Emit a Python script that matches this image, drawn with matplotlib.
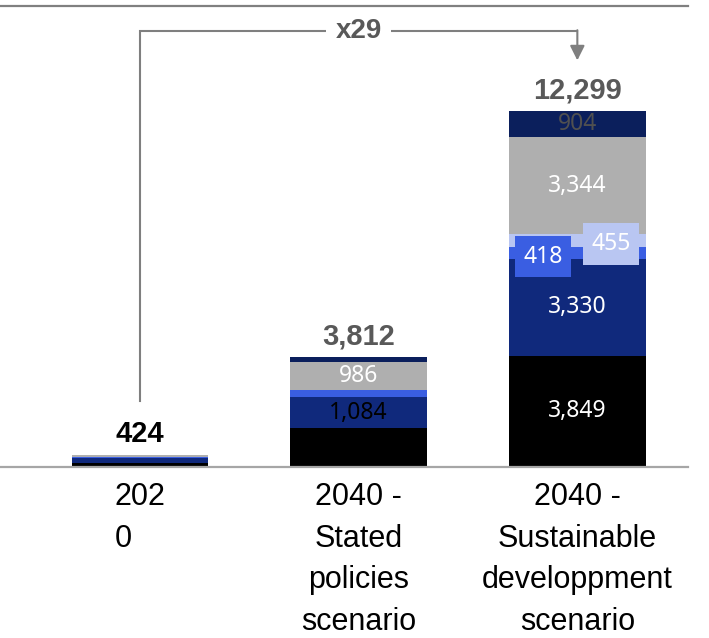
import matplotlib.pyplot as plt
import numpy as np

# --- data ---
categories = ['202\n0', '2040 -\nStated\npolicies\nscenario',
              '2040 -\nSustainable\ndeveloppment\nscenario']
totals = [424, 3812, 12299]
growth_label = 'x29'

# stacked segments, bottom to top
black = [150, 1340, 3849]
dark_blue = [150, 1084, 3330]
bright_blue = [30, 223, 418]
light_blue = [0, 0, 455]
gray = [80, 986, 3344]
navy = [14, 179, 904]

# which segment values are printed on the bars
show_black = [False, False, True]
show_dark_blue = [False, True, True]
show_bright_blue = [False, False, True]
show_light_blue = [False, False, True]
show_gray = [False, True, True]
show_navy = [False, False, True]

# --- styles ---
series = [
    # values, shown, fill, text colour, label box colour, x offset
    (black, show_black, '#000000', 'white', None, 0.0),
    (dark_blue, show_dark_blue, '#10297C', None, None, 0.0),
    (bright_blue, show_bright_blue, '#3A5EE2', 'white', '#3A5EE2', -0.157),
    (light_blue, show_light_blue, '#B9C6F2', 'white', '#B9C6F2', 0.154),
    (gray, show_gray, '#AFAFAF', 'white', None, 0.0),
    (navy, show_navy, '#0B1F5C', '#505050', None, 0.0),
]
# 1,084 on the stated-policies bar is printed in black
dark_blue_text = ['white', 'black', 'white']

seg_font = 'Noto Sans'
lab_font = 'Liberation Sans'

fig = plt.figure(figsize=(7.09, 6.38), dpi=100)
ax = fig.add_axes([0, 171 / 638, 688 / 709, 461 / 638])

x = np.arange(len(categories))
bar_w = 0.626
ymax = 15930

bottom = np.zeros(len(categories))
for vals, shown, fill, tcol, box, dx in series:
    vals = np.array(vals, dtype=float)
    ax.bar(x, vals, bar_w, bottom=bottom, color=fill, edgecolor='none', zorder=2)
    for i in range(len(x)):
        if not shown[i]:
            continue
        c = tcol if tcol is not None else dark_blue_text[i]
        kw = {}
        yoff = 0
        if box is not None:
            kw['bbox'] = dict(boxstyle='square,pad=0.38', fc=box, ec='none')
            yoff = -120
        ax.text(x[i] + dx, bottom[i] + vals[i] / 2 + yoff, f'{int(vals[i]):,}',
                ha='center', va='center', color=c, fontsize=16.5,
                family=seg_font, zorder=4, **kw)
    bottom += vals

# totals above the bars
for i, t in enumerate(totals):
    ax.annotate(f'{t:,}', xy=(x[i], t), xytext=(0, 9), textcoords='offset points',
                ha='center', va='baseline', fontsize=21, fontweight='bold',
                family=lab_font, color='black' if i == 0 else '#595959')

# growth arrow from 2020 to the sustainable scenario
arrow_col = '#7F7F7F'
y_top = ymax * 0.945
y_start = totals[0] + ymax * 0.1165
y_tip = totals[-1] + ymax * 0.11
ax.plot([x[0], x[0], x[-1]], [y_start, y_top, y_top], color=arrow_col, lw=1.5,
        solid_joinstyle='miter', clip_on=False, zorder=3)
ax.annotate('', xy=(x[-1], y_tip), xytext=(x[-1], y_top + 40),
            arrowprops=dict(arrowstyle='-|>', color=arrow_col, lw=1.5,
                            mutation_scale=22, shrinkA=0, shrinkB=0),
            zorder=3)
ax.text((x[0] + x[-1]) / 2, y_top, growth_label, ha='center', va='center',
        fontsize=20, fontweight='bold', family=lab_font, color='#595959',
        bbox=dict(boxstyle='square,pad=0.35', fc='white', ec='none'), zorder=5)

# axes
ax.set_xlim(-0.640, 2.506)
ax.set_ylim(0, ymax)
ax.set_yticks([])
ax.set_xticks(x)
ax.set_xticklabels(categories, fontsize=22, family=lab_font, color='black')
for k, lbl in enumerate(ax.get_xticklabels()):
    lbl.set_linespacing(1.5)
    if k == 0:
        lbl.set_multialignment('left')
ax.tick_params(axis='x', length=0, pad=11)
for s in ['left', 'right']:
    ax.spines[s].set_visible(False)
ax.spines['top'].set_color('#808080')
ax.spines['top'].set_linewidth(1.6)
ax.spines['bottom'].set_color('#A6A6A6')
ax.spines['bottom'].set_linewidth(1.6)
ax.set_facecolor('white')

fig.savefig('out.png', dpi=100)
